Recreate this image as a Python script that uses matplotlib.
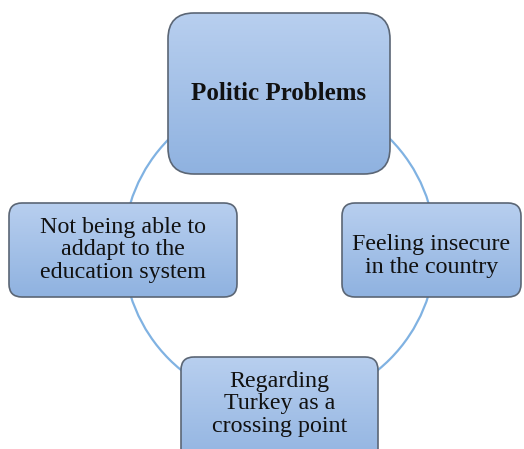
import matplotlib
matplotlib.use("Agg")
import matplotlib.pyplot as plt
import numpy as np
from matplotlib.patches import FancyBboxPatch, Circle
from matplotlib.colors import LinearSegmentedColormap

labels = ["Politic Problems",
          "Not being able to\naddapt to the\neducation system",
          "Feeling insecure\nin the country",
          "Regarding\nTurkey as a\ncrossing point"]
bold = [True, False, False, False]

# box layout: (x0, y0, x1, y1, radius, text_dy) in pixel coords
boxes = [(168, 13, 390, 174, 26, 0),
         (9, 203, 237, 297, 13, 0),
         (342, 203, 521, 297, 13, 6),
         (181, 357, 378, 470, 13, 0)]

W, H = 524, 449
fig = plt.figure(figsize=(W/100, H/100), dpi=100)
ax = fig.add_axes([0, 0, 1, 1])
ax.set_xlim(0, W)
ax.set_ylim(H, 0)
ax.axis("off")

circ = Circle((279.5, 249), 156, fill=False, edgecolor="#80b2e2", lw=1.6, zorder=1)
ax.add_patch(circ)

cmap = LinearSegmentedColormap.from_list("g", ["#b8cfef", "#8fb2e0"])

for (x0, y0, x1, y1, r, dy), lab, b in zip(boxes, labels, bold):
    p = FancyBboxPatch((x0 + r, y0 + r), (x1 - x0) - 2*r, (y1 - y0) - 2*r,
                       boxstyle=f"round,pad={r}", facecolor="none",
                       edgecolor="#5b6675", lw=1.2, zorder=3)
    ax.add_patch(p)
    grad = np.linspace(0, 1, 256).reshape(-1, 1)
    im = ax.imshow(grad, cmap=cmap, extent=(x0, x1, y1, y0), aspect="auto",
                   zorder=2, interpolation="bilinear")
    im.set_clip_path(p)
    cy = (y0 + y1) / 2 if y1 <= H else (y0 + H) / 2 + 1
    ax.text((x0 + x1) / 2, cy + dy, lab, ha="center", va="center",
            family="Liberation Serif", fontsize=18 if b else 17.3,
            fontweight="bold" if b else "normal", color="#111111",
            linespacing=1.12, zorder=4)

ax.set_xlim(0, W)
ax.set_ylim(H, 0)
fig.savefig("out.png", dpi=100)
